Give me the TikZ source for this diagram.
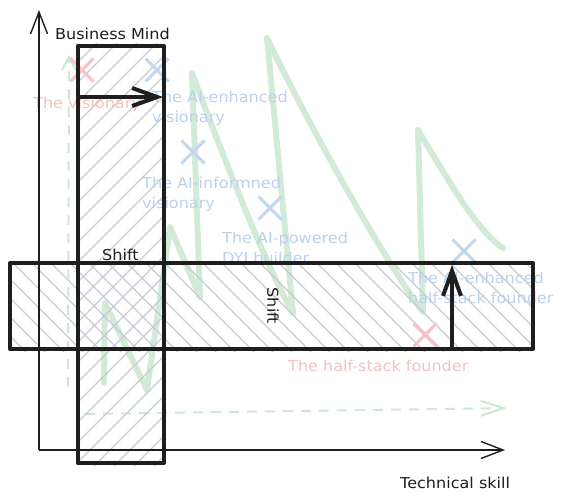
\documentclass[tikz,border=0pt]{standalone}
\usepackage{fontspec}
\setmainfont{DejaVu Sans}[FakeStretch=1.07]
\usetikzlibrary{arrows.meta,shapes.misc}
\definecolor{ink}{HTML}{1E1E1E}
\definecolor{hatchc}{HTML}{C6CAD4}
\definecolor{grn}{HTML}{D2EBD8}
\definecolor{grnd}{HTML}{CDE9D3}
\definecolor{blu}{HTML}{C3D7EF}
\definecolor{redx}{HTML}{F7C3C3}
\definecolor{blutxt}{HTML}{BBD1EB}
\definecolor{redtxt}{HTML}{F5C0C0}
\pgfdeclarelayer{bg}
\pgfdeclarelayer{mid}
\pgfsetlayers{bg,mid,main}
\tikzset{
  lbl/.style={font=\fontsize{15}{20}\selectfont, inner sep=0pt, anchor=west, align=left},
  bluelbl/.style={lbl, text=blutxt},
  redlbl/.style={lbl, text=redtxt},
  blklbl/.style={lbl, text=ink},
  boxshape/.style={draw=ink, line width=4pt, rectangle, inner sep=0pt, line join=round},
  hatchline/.style={draw=hatchc, line width=1.3pt},
  zig/.style={draw=grn, line width=6pt, line join=round, line cap=round},
  gdash/.style={draw=grnd, line width=2pt, dash pattern=on 10pt off 8pt},
  xmarkblue/.style={cross out, draw=blu, line width=3pt, minimum size=20pt, inner sep=0pt},
  xmarkred/.style={cross out, draw=redx, line width=3pt, minimum size=20pt, inner sep=0pt},
  axis/.style={draw=ink, line width=1.4pt, -{Straight Barb[length=22pt,width=17pt,line width=1.4pt]}},
  thickarrow/.style={draw=ink, line width=4pt, line cap=round, -{Straight Barb[length=25pt,width=18pt,line width=4pt]}}
}
\begin{document}
\begin{tikzpicture}[x=1pt,y=-1pt]
\useasboundingbox (0,0) rectangle (563,503);

% boxes (drawn on main layer)
\node[boxshape, minimum width=86pt, minimum height=417pt] (vbox) at (121,254.5) {};
\node[boxshape, minimum width=523pt, minimum height=86pt] (hbox) at (271.5,306) {};

\begin{pgfonlayer}{bg}
  % green zigzag
  \draw[zig] (104,383) -- (105,303) -- (147,390) -- (170,227) -- (200,297) -- (192,73)
     .. controls (215,135) and (265,265) .. (293,313) -- (267,38)
     .. controls (305,118) and (385,262) .. (423,312) -- (418,130)
     .. controls (448,180) and (478,232) .. (503,248);
  % green dashed axes
  \coordinate (gv0) at (68,387);
  \coordinate (gv1) at (69,55);
  \coordinate (gh0) at (85,414);
  \coordinate (gh1) at (507,408);
  \draw[gdash, -{Straight Barb[length=13pt,width=14pt,line width=2pt]}] (gv0) -- (gv1);
  \draw[gdash, -{Straight Barb[length=23pt,width=15pt,line width=2pt]}] (gh0) -- (gh1);
  % hatching
  \begin{scope}
    \clip (vbox.south west) rectangle (vbox.north east);
    \foreach \c in {0,20,...,720} \draw[hatchline] (0,\c) -- (\c,0);
  \end{scope}
  \begin{scope}
    \clip (hbox.south west) rectangle (hbox.north east);
    \foreach \d in {-320,-301,...,380} \draw[hatchline] (0,\d) -- (600,600+\d);
  \end{scope}
\end{pgfonlayer}

\begin{pgfonlayer}{mid}
  \node[xmarkred]  (m1) at (82,70) {};
  \node[xmarkblue] (m2) at (157,70) {};
  \node[xmarkblue] (m3) at (193,152) {};
  \node[xmarkblue] (m4) at (270,208) {};
  \node[xmarkblue] (m5) at (464,251) {};
  \node[xmarkred]  (m6) at (425,335) {};
  \node[redlbl]  (t1) at (33,104) {The visionary};
  \node[bluelbl] (t2) at (152,108.5) {The AI-enhanced\\visionary};
  \node[bluelbl] (t3) at (142,194) {The AI-informned\\visionary};
  \node[bluelbl] (t4) at (222,248) {The AI-powered\\DYI builder};
  \node[bluelbl] (t5) at (408,287.5) {The AI-enhanced\\half-stack founder};
  \node[redlbl]  (t6) at (288,366) {The half-stack founder};
\end{pgfonlayer}

% axes
\coordinate (origin) at (39,450);
\coordinate (ytop) at (39,10);
\coordinate (xend) at (505,450);
\draw[axis] (origin) -- (ytop);
\draw[axis] (origin) -- (xend);

% labels
\node[blklbl] (bm) at (55,34) {Business Mind};
\node[blklbl] (ts) at (400,483) {Technical skill};
\node[blklbl] (sh1) at (102,255) {Shift};
\node[blklbl, anchor=center, rotate=-90] (sh2) at (273,306) {Shift};

% shift arrows
\coordinate (a1s) at (80,97);
\coordinate (a1e) at (163,97);
\coordinate (a2s) at (452,348);
\coordinate (a2e) at (452,265);
\draw[thickarrow] (a1s) -- (a1e);
\draw[thickarrow] (a2s) -- (a2e);
\end{tikzpicture}
\end{document}
